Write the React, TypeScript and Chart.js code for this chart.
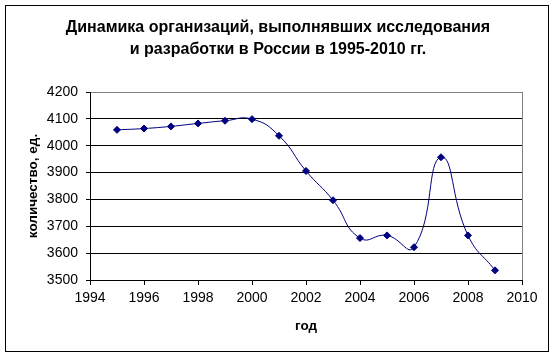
import React, { useEffect, useRef } from "react";
import { Chart, registerables } from "chart.js";

Chart.register(...registerables);

const titleLines = [
  "Динамика организаций, выполнявших исследования",
  "и разработки в России в 1995-2010 гг.",
];
const xTitle = "год";
const yTitle = "количество, ед.";
const years = [1995, 1996, 1997, 1998, 1999, 2000, 2001, 2002, 2003, 2004, 2005, 2006, 2007, 2008, 2009];
const counts = [4059, 4064, 4072, 4083, 4093, 4099, 4037, 3906, 3797, 3656, 3666, 3622, 3957, 3666, 3536];
const xMin = 1994;
const xMax = 2010;
const xStep = 2;
const yMin = 3500;
const yMax = 4200;
const yStep = 100;

const FONT = "'Liberation Sans', Arial, sans-serif";

export default function App() {
  const ref = useRef<HTMLCanvasElement | null>(null);

  useEffect(() => {
    if (!ref.current) return;
    const framePlugin = {
      id: "frame",
      beforeDraw(chart: any) {
        const c = chart.ctx;
        c.save();
        c.fillStyle = "#ffffff";
        c.fillRect(0, 0, chart.width, chart.height);
        c.restore();
      },
      beforeDatasetsDraw(chart: any) {
        const c = chart.ctx;
        const a = chart.chartArea;
        c.save();
        c.strokeStyle = "#808080";
        c.lineWidth = 1;
        c.beginPath();
        c.moveTo(Math.round(a.right) + 0.5, Math.round(a.top));
        c.lineTo(Math.round(a.right) + 0.5, Math.round(a.bottom));
        c.stroke();
        c.restore();
      },
      afterDraw(chart: any) {
        const c = chart.ctx;
        c.save();
        c.fillStyle = "#000";
        c.font = "bold 16px " + FONT;
        c.textAlign = "center";
        c.textBaseline = "middle";
        titleLines.forEach((t, i) => c.fillText(t, chart.width / 2, 28 + i * 22));
        c.strokeStyle = "#000000";
        c.lineWidth = 1;
        c.strokeRect(5.5, 5.5, 543, 346);
        c.restore();
      },
    };

    const chart = new Chart(ref.current, {
      type: "line",
      data: {
        datasets: [
          {
            data: years.map((y, i) => ({ x: y, y: counts[i] })),
            borderColor: "#000080",
            backgroundColor: "#000080",
            borderWidth: 1,
            pointStyle: "rectRot",
            pointRadius: 3.5,
            pointBorderWidth: 1,
            tension: 0.5,
            fill: false,
          },
        ],
      },
      options: {
        animation: false,
        responsive: false,
        layout: { padding: { left: 0, right: 34, top: 92, bottom: 0 } },
        plugins: {
          legend: { display: false },
          tooltip: { enabled: false },
          title: { display: false },
        },
        scales: {
          x: {
            type: "linear",
            min: xMin,
            max: xMax,
            afterFit(scale: any) {
              scale.height = 77;
            },
            ticks: {
              stepSize: xStep,
              color: "#000",
              font: { family: FONT, size: 14 },
              padding: 5,
              maxRotation: 0,
              callback: (v: any) => String(v),
            },
            grid: {
              drawOnChartArea: false,
              drawTicks: true,
              tickLength: 5,
              color: "#000",
            },
            border: { color: "#000", width: 1 },
            title: {
              display: true,
              text: xTitle,
              color: "#000",
              font: { family: FONT, size: 13.5, weight: "bold" },
              padding: { top: 0, bottom: 23 },
            },
          },
          y: {
            min: yMin,
            max: yMax,
            afterFit(scale: any) {
              scale.width = 90;
            },
            ticks: {
              stepSize: yStep,
              color: "#000",
              font: { family: FONT, size: 14 },
              padding: 8,
              callback: (v: any) => String(v),
            },
            grid: {
              color: (ctx: any) => (ctx.tick && ctx.tick.value === yMax ? "#808080" : "#000"),
              tickColor: "#000",
              tickLength: 4,
              lineWidth: 1,
            },
            border: { color: "#000", width: 1 },
            title: {
              display: true,
              text: yTitle,
              color: "#000",
              font: { family: FONT, size: 13.5, weight: "bold" },
              padding: { top: 25, bottom: 0 },
            },
          },
        },
      },
      plugins: [framePlugin],
    } as any);
    return () => chart.destroy();
  }, []);

  return (
    <div style={{ position: "absolute", left: 0, top: 0, width: 556, height: 357 }}>
      <canvas ref={ref} width={556} height={357} />
    </div>
  );
}
